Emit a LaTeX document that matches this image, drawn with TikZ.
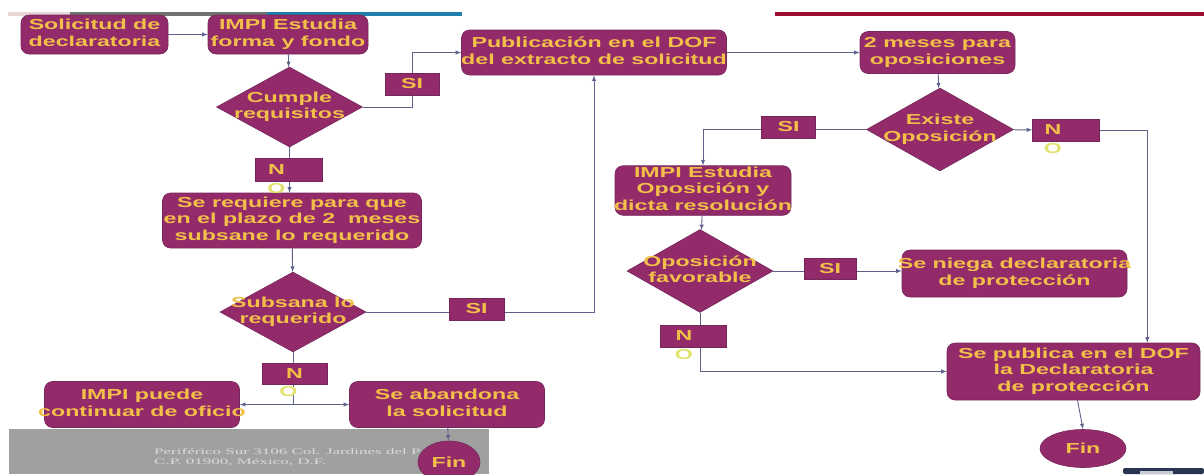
\documentclass[tikz,border=0pt]{standalone}
\usepackage{fontspec}
\usepackage{tikz}
\usetikzlibrary{shapes}
\newfontfamily\flowfont[FakeStretch=1.6]{Liberation Sans}
\newfontfamily\footfont[FakeStretch=2.0]{Liberation Serif}
\definecolor{boxfill}{RGB}{147,43,107}
\definecolor{boxline}{RGB}{118,38,92}
\definecolor{boxtext}{RGB}{242,192,72}
\definecolor{notext}{RGB}{226,226,110}
\definecolor{arrowline}{RGB}{92,98,140}
\definecolor{barblue}{RGB}{30,128,170}
\definecolor{bargray}{RGB}{112,112,112}
\definecolor{barpink}{RGB}{232,214,214}
\definecolor{barred}{RGB}{155,15,48}
\definecolor{footgray}{RGB}{160,160,160}
\definecolor{foottext}{RGB}{218,218,218}
\definecolor{iconblue}{RGB}{40,52,82}
\newcommand{\boxtxt}[1]{\makebox[0pt]{\begin{tabular}{@{}c@{}}#1\end{tabular}}}
\tikzstyle{flowtext}=[text=boxtext,font=\flowfont\bfseries\fontsize{14.5}{16.5}\selectfont]

\begin{document}
\begin{tikzpicture}[x=1pt,y=-1pt,>=latex]
    \tikzstyle{stepbox}=[rectangle,rounded corners=8pt,fill=boxfill,draw=boxline,line width=0.6pt,inner sep=0pt,flowtext]
    \tikzstyle{ask}=[diamond,fill=boxfill,draw=boxline,line width=0.6pt,inner sep=0pt,flowtext]
    \tikzstyle{endnode}=[ellipse,fill=boxfill,draw=boxline,line width=0.6pt,inner sep=0pt,flowtext]
    \tikzstyle{tag}=[rectangle,fill=boxfill,draw=boxline,line width=0.6pt,inner sep=0pt,flowtext]
    \tikzstyle{ochar}=[flowtext,text=notext,inner sep=0pt,yshift=-2pt]
    \tikzstyle{link}=[draw=arrowline,line width=0.9pt]
    \useasboundingbox (0,0) rectangle (1204,474);

    % slide decoration
    \fill[barpink] (8,11.5) rectangle (70,15.5);
    \fill[bargray] (70,11.5) rectangle (267,15.5);
    \fill[barblue] (267,11.5) rectangle (462,15.5);
    \fill[barred] (775,11.5) rectangle (1204,15.5);
    \fill[footgray] (9,429) rectangle (489,474);
    \node[anchor=west,text=foottext,inner sep=0pt,font=\footfont\fontsize{8.5}{9}\selectfont] (ft1) at (154,452) {Periférico Sur 3106 Col. Jardines del P};
    \node[anchor=west,text=foottext,inner sep=0pt,font=\footfont\fontsize{8.5}{9}\selectfont] (ft2) at (154,462) {C.P. 01900, México, D.F.};
    \fill[iconblue,rounded corners=2pt] (1123,468) rectangle (1204,474);
    \fill[white!75!iconblue] (1140,471) rectangle (1173,474);

    % left column
    \node[stepbox,minimum width=147pt,minimum height=39pt] (sol) at (94.5,34.5) {\boxtxt{Solicitud de\\declaratoria}};
    \node[stepbox,minimum width=160pt,minimum height=39pt] (est) at (288,34.5) {\boxtxt{IMPI Estudia\\forma y fondo}};
    \node[ask,minimum width=146pt,minimum height=80pt] (cump) at (289.5,107) {\boxtxt{Cumple\\requisitos}};
    \node[stepbox,minimum width=259pt,minimum height=55pt] (req) at (292,220.5) {\boxtxt{Se requiere para que\\en el plazo de 2~ meses\\subsane lo requerido}};
    \node[ask,minimum width=146pt,minimum height=80pt] (subs) at (293,312) {\boxtxt{Subsana lo\\requerido}};
    \node[stepbox,minimum width=195pt,minimum height=46pt] (puede) at (142,404.5) {\boxtxt{IMPI puede\\continuar de oficio}};
    \node[stepbox,minimum width=195pt,minimum height=46pt] (aband) at (447,404.5) {\boxtxt{Se abandona\\la solicitud}};
    \node[endnode,minimum width=62pt,minimum height=42pt] (fin1) at (449,462) {Fin};

    % right part
    \node[stepbox,minimum width=265pt,minimum height=45pt] (pub) at (594,52.5) {\boxtxt{Publicación en el DOF\\del extracto de solicitud}};
    \node[stepbox,minimum width=155pt,minimum height=42pt] (twomes) at (937.5,52.5) {\boxtxt{2 meses para\\oposiciones}};
    \node[ask,minimum width=147pt,minimum height=83pt] (exist) at (940,129.5) {\boxtxt{Existe\\Oposición}};
    \node[tag,minimum width=67pt,minimum height=22pt,
          label={[flowtext,inner sep=0pt,xshift=-13pt]center:N},
          label={[ochar,xshift=-13pt]below:O}] (no3) at (1066,130) {};
    \node[stepbox,minimum width=176pt,minimum height=49pt] (opest) at (703,190.5) {\boxtxt{IMPI Estudia\\Oposición y\\dicta resolución}};
    \node[ask,minimum width=146pt,minimum height=83pt] (opfav) at (700,271) {\boxtxt{Oposición\\favorable}};
    \node[stepbox,minimum width=225pt,minimum height=47pt] (neg) at (1014.5,273.5) {\boxtxt{Se niega declaratoria\\de protección}};
    \node[stepbox,minimum width=253pt,minimum height=57pt] (publ) at (1073.5,371.5) {\boxtxt{Se publica en el DOF\\la Declaratoria\\de protección}};
    \node[endnode,minimum width=86pt,minimum height=38pt] (fin2) at (1083,448.5) {Fin};

    % connectors
    \draw[link,->] (sol) -- (est);
    \draw[link,->] (est) -- (cump);
    \draw[link,->] (cump.east) -- ++(50,0) |- (pub.west);
    \draw[link,->] (cump.south) -- (cump.south |- req.north);
    \draw[link,->] (req) -- (subs);
    \draw[link,->] (subs.east) -| (pub.south);
    \draw[link,->] (subs.south) |- (puede.east);
    \draw[link,->] (subs.south) |- (aband.west);
    \draw[link,->] (aband) -- (fin1);
    \draw[link,->] (pub.east) -- (pub.east -| twomes.west);
    \draw[link,->] (twomes) -- (exist);
    \draw[link,->] (exist.west) -| (opest.north);
    \draw[link,->] (exist) -- (no3);
    \draw[link,->] (no3.east) -| ([xshift=-53pt]publ.north east);
    \draw[link,->] (opest) -- (opfav);
    \draw[link,->] (opfav.east) -- (opfav.east -| neg.west);
    \draw[link,->] (opfav.south) |- (publ.west);
    \draw[link,->] ([xshift=4pt]publ.south) -- (fin2.north);

    % answer tags on the lines
    \node[tag,minimum width=54pt,minimum height=22pt] (si1) at (412,84) {SI};
    \node[tag,minimum width=67pt,minimum height=23pt,
          label={[flowtext,inner sep=0pt,xshift=-12pt]center:N},
          label={[ochar,xshift=-12pt]below:O}] (no1) at (288.5,169.5) {};
    \node[tag,minimum width=55pt,minimum height=22pt] (si2) at (476.5,309) {SI};
    \node[tag,minimum width=65pt,minimum height=21pt,
          label={[flowtext,inner sep=0pt]center:N},
          label={[ochar,xshift=-6pt]below:O}] (no2) at (294.5,373.5) {};
    \node[tag,minimum width=54pt,minimum height=22pt] (si3) at (788.5,127) {SI};
    \node[tag,minimum width=52pt,minimum height=21pt] (si4) at (830,268.5) {SI};
    \node[tag,minimum width=66pt,minimum height=22pt,
          label={[flowtext,inner sep=0pt,xshift=-9pt]center:N},
          label={[ochar,xshift=-9pt]below:O}] (no4) at (693,336) {};
\end{tikzpicture}
\end{document}
